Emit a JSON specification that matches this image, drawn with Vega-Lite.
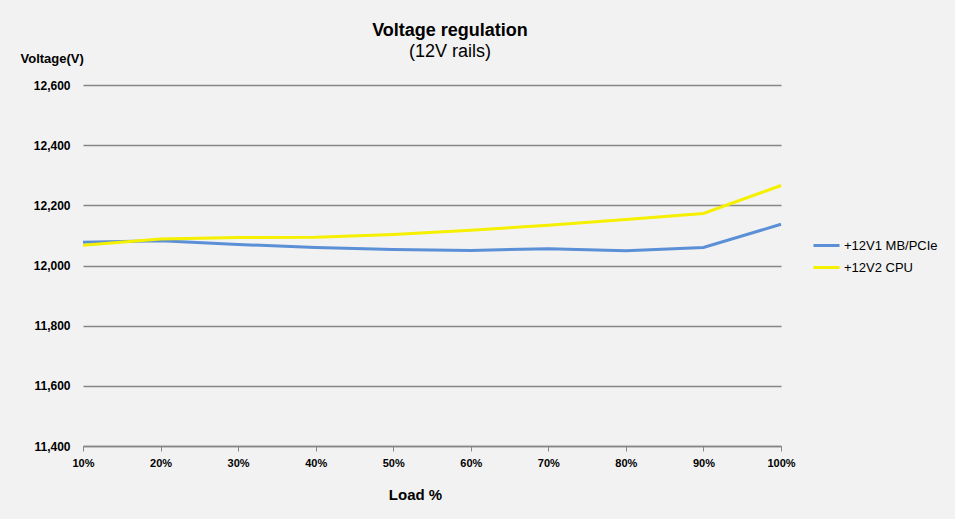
{
  "$schema": "https://vega.github.io/schema/vega-lite/v6.json",
  "width": 698,
  "height": 361,
  "autosize": {"type": "none"},
  "padding": {"left": 83, "top": 85, "right": 174, "bottom": 73},
  "background": "#f2f2f2",
  "title": {
    "text": "Voltage regulation",
    "subtitle": "(12V rails)",
    "anchor": "middle",
    "frame": "group",
    "dx": 18,
    "offset": -9,
    "font": "Liberation Sans",
    "fontSize": 18,
    "fontWeight": "bold",
    "color": "#000000",
    "subtitleFont": "Liberation Sans",
    "subtitleFontSize": 18,
    "subtitleColor": "#000000",
    "subtitlePadding": 3
  },
  "config": {
    "view": {"stroke": null},
    "font": "Liberation Sans"
  },
  "data": {
    "values": [
      {"series": "+12V1 MB/PCIe", "load": 10, "voltage": 12077},
      {"series": "+12V1 MB/PCIe", "load": 20, "voltage": 12082},
      {"series": "+12V1 MB/PCIe", "load": 30, "voltage": 12070},
      {"series": "+12V1 MB/PCIe", "load": 40, "voltage": 12060},
      {"series": "+12V1 MB/PCIe", "load": 50, "voltage": 12053},
      {"series": "+12V1 MB/PCIe", "load": 60, "voltage": 12050},
      {"series": "+12V1 MB/PCIe", "load": 70, "voltage": 12056},
      {"series": "+12V1 MB/PCIe", "load": 80, "voltage": 12049},
      {"series": "+12V1 MB/PCIe", "load": 90, "voltage": 12060},
      {"series": "+12V1 MB/PCIe", "load": 100, "voltage": 12137},
      {"series": "+12V2 CPU", "load": 10, "voltage": 12067},
      {"series": "+12V2 CPU", "load": 20, "voltage": 12088},
      {"series": "+12V2 CPU", "load": 30, "voltage": 12093},
      {"series": "+12V2 CPU", "load": 40, "voltage": 12094},
      {"series": "+12V2 CPU", "load": 50, "voltage": 12103},
      {"series": "+12V2 CPU", "load": 60, "voltage": 12117},
      {"series": "+12V2 CPU", "load": 70, "voltage": 12134},
      {"series": "+12V2 CPU", "load": 80, "voltage": 12153},
      {"series": "+12V2 CPU", "load": 90, "voltage": 12173},
      {"series": "+12V2 CPU", "load": 100, "voltage": 12266}
    ]
  },
  "mark": {"type": "line", "strokeWidth": 3, "interpolate": "linear"},
  "encoding": {
    "x": {
      "field": "load",
      "type": "quantitative",
      "scale": {"domain": [10, 100], "nice": false, "zero": false},
      "axis": {
        "values": [10, 20, 30, 40, 50, 60, 70, 80, 90, 100],
        "labelExpr": "datum.value + '%'",
        "grid": false,
        "domainColor": "#868686",
        "domainWidth": 1.5,
        "tickColor": "#868686",
        "tickSize": 5,
        "labelPadding": 6,
        "labelFont": "Liberation Sans",
        "labelFontSize": 11,
        "labelFontWeight": "bold",
        "labelColor": "#000000",
        "labelFlush": false,
        "title": "Load %",
        "titleFont": "Liberation Sans",
        "titleFontSize": 15,
        "titleFontWeight": "bold",
        "titleColor": "#000000",
        "titleX": 332,
        "titleY": 48,
        "titleBaseline": "middle",
        "titleAlign": "center"
      }
    },
    "y": {
      "field": "voltage",
      "type": "quantitative",
      "scale": {"domain": [11400, 12600], "nice": false, "zero": false},
      "axis": {
        "values": [11400, 11600, 11800, 12000, 12200, 12400, 12600],
        "format": ",d",
        "grid": true,
        "gridColor": "#868686",
        "gridWidth": 1.5,
        "domain": false,
        "ticks": false,
        "labelPadding": 13,
        "labelFont": "Liberation Sans",
        "labelFontSize": 12,
        "labelFontWeight": "bold",
        "labelColor": "#000000",
        "title": "Voltage(V)",
        "titleAngle": 0,
        "titleFont": "Liberation Sans",
        "titleFontSize": 13,
        "titleFontWeight": "bold",
        "titleColor": "#000000",
        "titleX": -63,
        "titleY": -27,
        "titleAlign": "left",
        "titleBaseline": "middle"
      }
    },
    "color": {
      "field": "series",
      "type": "nominal",
      "scale": {"domain": ["+12V1 MB/PCIe", "+12V2 CPU"], "range": ["#5b8fd6", "#f5ef00"]},
      "legend": {
        "title": null,
        "orient": "none",
        "legendX": 729,
        "legendY": 146,
        "symbolType": "stroke",
        "symbolSize": 676,
        "symbolStrokeWidth": 3,
        "labelFont": "Liberation Sans",
        "labelFontSize": 13,
        "labelColor": "#000000",
        "labelOffset": 3,
        "rowPadding": 0
      }
    }
  }
}
